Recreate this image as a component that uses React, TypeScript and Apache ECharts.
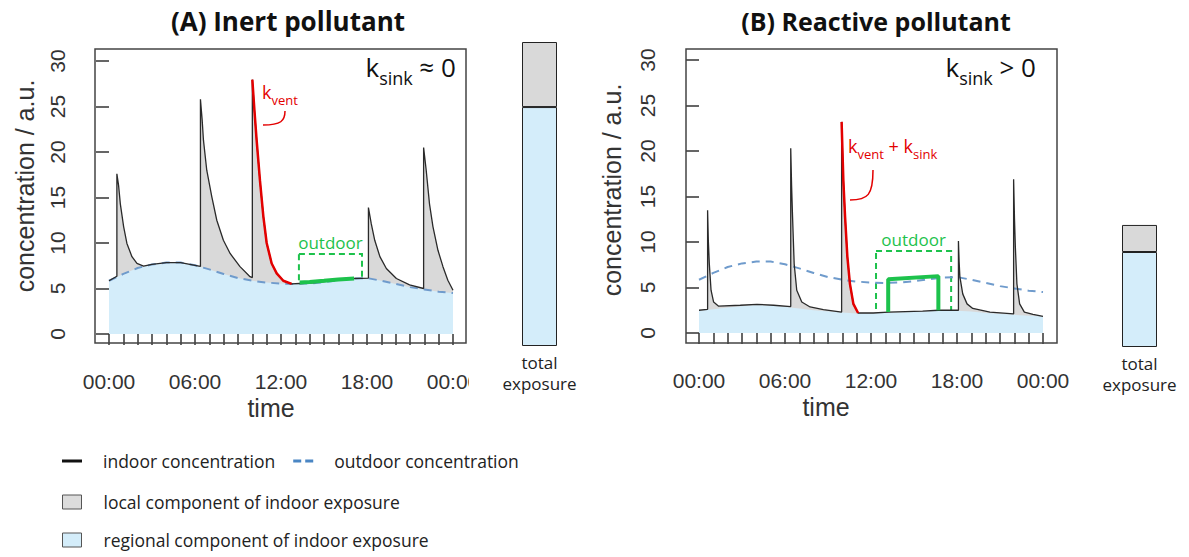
import React, { useEffect, useRef } from 'react';
import * as echarts from 'echarts';

// ---------- data ----------
const timeTickLabels = ['00:00', '06:00', '12:00', '18:00', '00:00'];
const concMin = 0;
const concMax = 30;
const concStep = 5;

// outdoor concentration (hour, a.u.) – same curve in both panels
const outdoorConc: number[][] = [
  [0, 5.85], [1, 6.6], [2, 7.25], [3, 7.65], [4, 7.85], [5, 7.85], [6, 7.55],
  [7, 7.1], [8, 6.6], [9, 6.15], [10, 5.85], [11, 5.65], [12, 5.55], [13, 5.5],
  [14, 5.55], [15, 5.7], [16, 5.9], [17, 6.1], [18, 6.15], [19, 5.85], [20, 5.5],
  [21, 5.15], [22, 4.9], [23, 4.65], [24, 4.5],
];

// (A) inert pollutant – indoor concentration
const indoorA: number[][] = [
  [0, 5.85], [0.55, 6.35],
  [0.55, 17.6], [0.67, 16.3], [0.79, 14.3], [1.02, 11.8], [1.25, 9.95], [1.6, 8.5], [1.95, 7.75], [2.41, 7.46],
  [3, 7.65], [4, 7.85], [5, 7.85], [6, 7.55], [6.38, 7.42],
  [6.38, 25.8], [6.5, 23.5], [6.59, 21.3], [6.82, 18.0], [7.17, 15.1], [7.52, 12.5], [7.98, 10.3],
  [8.45, 8.85], [9.14, 7.4], [9.84, 6.3], [10.0, 6.2],
  [10.0, 27.95], [10.15, 24.5], [10.3, 21.3], [10.53, 16.9], [10.77, 12.9], [11.0, 10.0], [11.35, 7.75],
  [11.7, 6.66], [12.16, 5.85], [12.74, 5.5],
  [13.3, 5.55], [14, 5.6], [15, 5.75], [16, 5.95], [17, 6.1], [18.1, 6.15],
  [18.1, 13.9], [18.3, 12.1], [18.54, 10.3], [18.9, 8.5], [19.35, 7.2], [20.05, 6.1], [20.97, 5.4], [21.95, 5.0],
  [21.95, 20.5], [22.13, 18.0], [22.36, 14.3], [22.6, 11.8], [22.95, 9.2], [23.3, 7.4], [23.64, 5.9], [24, 4.8],
];

// (B) reactive pollutant – indoor concentration
const indoorB: number[][] = [
  [0, 2.5], [0.6, 2.6],
  [0.6, 13.5], [0.65, 10.2], [0.72, 7.6], [0.84, 4.7], [1.02, 3.4], [1.37, 2.95], [2.88, 3.05], [4.04, 3.15], [5.2, 3.05], [6.4, 2.9],
  [6.4, 20.3], [6.46, 16.2], [6.52, 13.1], [6.64, 7.6], [6.82, 4.7], [7.17, 3.4], [7.75, 2.86], [8.68, 2.57], [9.95, 2.3],
  [9.95, 23.2], [10.0, 20.5], [10.07, 16.8], [10.19, 12.8], [10.35, 8.4], [10.53, 5.4], [10.77, 3.2], [11.1, 2.2],
  [12.16, 2.2], [13.2, 2.3], [15.6, 2.4], [16.7, 2.5], [18.1, 2.5],
  [18.1, 10.1], [18.15, 7.8], [18.2, 6.2], [18.4, 4.3], [18.7, 3.2], [19.1, 2.7], [20.3, 2.3], [21.95, 2.1],
  [21.95, 16.9], [22.01, 12.6], [22.07, 9.5], [22.18, 5.4], [22.37, 3.2], [22.7, 2.3], [23.3, 2.05], [24, 1.83],
];

// (B) regional component (top of blue area)
const regionalB: number[][] = [
  [0, 2.45], [1, 2.6], [2, 2.8], [3, 2.95], [4, 3.05], [5, 3.0], [6, 2.85], [7, 2.7], [8, 2.5],
  [9, 2.35], [10, 2.25], [11, 2.15], [12, 2.15], [13, 2.2], [14, 2.25], [15, 2.3], [16, 2.4],
  [17, 2.45], [18, 2.45], [19, 2.35], [20, 2.2], [21, 2.1], [22, 2.0], [23, 1.9], [24, 1.8],
];

// time spent outdoors (green)
const outdoorStayA: number[][] = [[13.3, 5.65], [14, 5.72], [15, 5.85], [16, 6.0], [17.1, 6.1]];
const outdoorStayB: number[][] = [[13.2, 2.3], [13.2, 5.9], [16.7, 6.25], [16.7, 2.5]];
const outdoorWindowA = [13.25, 17.65, 3.85, 8.8];
const outdoorWindowB = [12.35, 17.59, 0.33, 9.0];

// ventilation decay highlighted in red: peak hour and end hour
const ventA = [10.0, 12.74];
const ventB = [9.95, 11.1];

// total exposure bars
const exposureCategories = ['total exposure'];
const exposureRegional = [78.6, 31.25];
const exposureLocal = [21.4, 8.9];

// ---------- helpers ----------
const decaySegment = (pts: number[][], range: number[]) => {
  const start = pts.map((p) => p[0]).lastIndexOf(range[0]);
  const out: number[][] = [];
  for (let i = start; i < pts.length && pts[i][0] <= range[1]; i++) out.push(pts[i]);
  return out;
};

const SANS = 'Liberation Sans, Arial, sans-serif';
const CAL = 'Open Sans, sans-serif';
const AX = '#333';
const BLUE_FILL = '#d4edfa';
const GREY_FILL = '#d9d9d9';
const DASH_BLUE = '#6f9bcc';
const RED = '#e30000';
const GREEN = '#1dc24c';

const panelXAxis = (gridIndex: number, namePad: number) => ({
  gridIndex,
  type: 'value',
  min: 0,
  max: 24,
  interval: 1,
  offset: 12,
  axisLine: { show: false },
  axisTick: { show: true, length: 11, lineStyle: { color: AX, width: 1.5 } },
  axisLabel: {
    margin: 25,
    fontSize: 21,
    fontFamily: SANS,
    color: AX,
    showMinLabel: true,
    showMaxLabel: true,
    formatter: (v: number) => (v % 6 === 0 ? timeTickLabels[v / 6] : ''),
  },
  splitLine: { show: false },
  name: 'time',
  nameLocation: 'middle',
  nameGap: 49,
  nameTextStyle: { fontSize: 25, fontFamily: SANS, color: AX, padding: [0, namePad, 0, 0] },
});

const panelYAxis = (gridIndex: number, namePad: number, nameGap: number) => ({
  gridIndex,
  type: 'value',
  min: concMin,
  max: concMax,
  interval: concStep,
  offset: 14,
  axisLine: { show: false },
  axisTick: { show: true, length: 13, lineStyle: { color: AX, width: 1.5 } },
  axisLabel: { rotate: 90, margin: 27, fontSize: 21, fontFamily: SANS, color: AX },
  splitLine: { show: false },
  name: 'concentration / a.u.',
  nameLocation: 'middle',
  nameGap,
  nameTextStyle: { fontSize: 25, fontFamily: SANS, color: AX, padding: [0, 0, 0, namePad] },
});

const barXAxis = (gridIndex: number) => ({
  gridIndex,
  type: 'category',
  data: exposureCategories,
  axisLine: { show: false },
  axisTick: { show: false },
  axisLabel: {
    margin: 6,
    fontSize: 17,
    lineHeight: 21,
    fontFamily: CAL,
    color: '#222',
    formatter: (v: string) => v.replace(' ', '\n'),
  },
});

const barYAxis = (gridIndex: number) => ({ gridIndex, type: 'value', min: 0, max: 100, show: false });

const panelSeries = (
  idx: number,
  indoor: number[][],
  regional: number[][],
  vent: number[],
  stay: number[][],
  win: number[],
) => [
  {
    type: 'line', name: 'local component of indoor exposure', xAxisIndex: idx, yAxisIndex: idx,
    data: indoor, showSymbol: false, silent: true, z: 1,
    lineStyle: { width: 0 }, itemStyle: { color: GREY_FILL }, areaStyle: { color: GREY_FILL, opacity: 1 },
  },
  {
    type: 'line', name: 'regional component of indoor exposure', xAxisIndex: idx, yAxisIndex: idx,
    data: regional, showSymbol: false, silent: true, z: 2,
    lineStyle: { width: 0 }, itemStyle: { color: BLUE_FILL }, areaStyle: { color: BLUE_FILL, opacity: 1 },
  },
  {
    type: 'line', name: 'outdoor concentration', xAxisIndex: idx, yAxisIndex: idx,
    data: outdoorConc, showSymbol: false, silent: true, z: 3,
    itemStyle: { color: DASH_BLUE }, lineStyle: { color: DASH_BLUE, width: 2, type: [8, 6] },
  },
  {
    type: 'line', name: 'indoor concentration', xAxisIndex: idx, yAxisIndex: idx,
    data: indoor, showSymbol: false, silent: true, z: 4,
    itemStyle: { color: '#222' }, lineStyle: { color: '#2a2a2a', width: 1.3 },
  },
  {
    type: 'line', name: 'ventilation decay', xAxisIndex: idx, yAxisIndex: idx,
    data: decaySegment(indoor, vent), showSymbol: false, silent: true, z: 5,
    itemStyle: { color: RED }, lineStyle: { color: RED, width: 2.5 },
  },
  {
    type: 'line', name: 'time outdoors', xAxisIndex: idx, yAxisIndex: idx,
    data: stay, showSymbol: false, silent: true, z: 6,
    itemStyle: { color: GREEN }, lineStyle: { color: GREEN, width: 4 },
    markArea: {
      silent: true,
      itemStyle: { color: 'rgba(0,0,0,0)', borderColor: GREEN, borderWidth: 2, borderType: [6, 4] },
      label: { show: true, position: 'top', distance: 2, color: GREEN, fontSize: 17, fontFamily: CAL },
      data: [[{ name: 'outdoor', xAxis: win[0], yAxis: win[3] }, { xAxis: win[1], yAxis: win[2] }]],
    },
  },
];

const barSeries = (idx: number, k: number, stack: string) => [
  {
    type: 'bar', name: 'regional component of indoor exposure', xAxisIndex: idx, yAxisIndex: idx, stack,
    data: [exposureRegional[k]], barWidth: '100%', silent: true,
    itemStyle: { color: BLUE_FILL, borderColor: '#222', borderWidth: 1 },
  },
  {
    type: 'bar', name: 'local component of indoor exposure', xAxisIndex: idx, yAxisIndex: idx, stack,
    data: [exposureLocal[k]], barWidth: '100%', silent: true,
    itemStyle: { color: GREY_FILL, borderColor: '#222', borderWidth: 1 },
  },
];

const legendText = { fontFamily: CAL, fontSize: 17.5, color: '#222', lineHeight: 22 };

export default function App() {
  const ref = useRef<HTMLDivElement>(null);

  useEffect(() => {
    if (!ref.current) return;
    const chart = echarts.init(ref.current, undefined, { renderer: 'svg' });
    const option: any = {
      animation: false,
      backgroundColor: '#fff',
      title: [
        { text: '(A) Inert pollutant', left: 283, top: 3, textAlign: 'center',
          textStyle: { fontFamily: CAL, fontSize: 26, fontWeight: 'bold', color: '#111' } },
        { text: '(B) Reactive pollutant', left: 871, top: 3, textAlign: 'center',
          textStyle: { fontFamily: CAL, fontSize: 25, fontWeight: 'bold', color: '#111' } },
      ],
      grid: [
        { left: 109, top: 61, width: 344, height: 273 },
        { left: 699, top: 60, width: 344, height: 273 },
        { left: 522, top: 42, width: 35, height: 304 },
        { left: 1122, top: 43, width: 35, height: 304 },
      ],
      xAxis: [panelXAxis(0, 20), panelXAxis(1, 90), barXAxis(2), barXAxis(3)],
      yAxis: [panelYAxis(0, 23, 58), panelYAxis(1, 13, 61), barYAxis(2), barYAxis(3)],
      legend: [
        {
          left: 62, top: 450, padding: 0, itemWidth: 20, itemHeight: 3, itemGap: 18,
          selectedMode: false,
          textStyle: { ...legendText, padding: [0, 0, 0, 16] },
          data: [
            { name: 'indoor concentration', icon: 'rect', itemStyle: { color: '#111', borderWidth: 0 } },
            { name: 'outdoor concentration', icon: 'path://M0,0h8v3h-8z M12,0h8v3h-8z',
              itemStyle: { color: '#4a86c4', borderWidth: 0 } },
          ],
        },
        {
          left: 62, top: 491, padding: 0, itemWidth: 19, itemHeight: 14, selectedMode: false,
          textStyle: { ...legendText, padding: [0, 0, 0, 17] },
          data: [{ name: 'local component of indoor exposure', icon: 'rect',
            itemStyle: { color: '#dcdcdc', borderColor: '#555', borderWidth: 1 } }],
        },
        {
          left: 62, top: 529, padding: 0, itemWidth: 19, itemHeight: 14, selectedMode: false,
          textStyle: { ...legendText, padding: [0, 0, 0, 17] },
          data: [{ name: 'regional component of indoor exposure', icon: 'rect',
            itemStyle: { color: BLUE_FILL, borderColor: '#555', borderWidth: 1 } }],
        },
      ],
      series: [
        ...panelSeries(0, indoorA, outdoorConc, ventA, outdoorStayA, outdoorWindowA),
        ...panelSeries(1, indoorB, regionalB, ventB, outdoorStayB, outdoorWindowB),
        ...barSeries(2, 0, 'A'),
        ...barSeries(3, 1, 'B'),
      ],
      graphic: [
        { type: 'rect', shape: { x: 95, y: 49, width: 371, height: 294 },
          style: { fill: 'none', stroke: '#444', lineWidth: 1.5 }, z: 50, silent: true },
        { type: 'rect', shape: { x: 686, y: 49, width: 371, height: 294 },
          style: { fill: 'none', stroke: '#444', lineWidth: 1.5 }, z: 50, silent: true },
        { type: 'rect', shape: { x: 469, y: 366, width: 32, height: 32 },
          style: { fill: '#fff' }, z: 100, silent: true },
        {
          type: 'text', x: 456, y: 72, z: 60, silent: true,
          style: {
            text: '{k|k}{s|sink}{k| ≈ 0}', textAlign: 'right', textVerticalAlign: 'middle',
            rich: {
              k: { fontSize: 26, fontFamily: CAL, fill: '#111', verticalAlign: 'bottom', lineHeight: 30, padding: [0, 0, 7, 0] },
              s: { fontSize: 18, fontFamily: CAL, fill: '#111', verticalAlign: 'bottom', lineHeight: 22 },
            },
          },
        },
        {
          type: 'text', x: 1036, y: 72, z: 60, silent: true,
          style: {
            text: '{k|k}{s|sink}{k| > 0}', textAlign: 'right', textVerticalAlign: 'middle',
            rich: {
              k: { fontSize: 26, fontFamily: CAL, fill: '#111', verticalAlign: 'bottom', lineHeight: 30, padding: [0, 0, 7, 0] },
              s: { fontSize: 18, fontFamily: CAL, fill: '#111', verticalAlign: 'bottom', lineHeight: 22 },
            },
          },
        },
        {
          type: 'text', x: 262, y: 95, z: 60, silent: true,
          style: {
            text: '{k|k}{s|vent}', textAlign: 'left', textVerticalAlign: 'middle',
            rich: {
              k: { fontSize: 18, fontFamily: CAL, fill: RED, verticalAlign: 'bottom', lineHeight: 22, padding: [0, 0, 5, 0] },
              s: { fontSize: 13, fontFamily: CAL, fill: RED, verticalAlign: 'bottom', lineHeight: 16 },
            },
          },
        },
        {
          type: 'text', x: 848, y: 149, z: 60, silent: true,
          style: {
            text: '{k|k}{s|vent}{k| + k}{s|sink}', textAlign: 'left', textVerticalAlign: 'middle',
            rich: {
              k: { fontSize: 18, fontFamily: CAL, fill: RED, verticalAlign: 'bottom', lineHeight: 22, padding: [0, 0, 5, 0] },
              s: { fontSize: 13, fontFamily: CAL, fill: RED, verticalAlign: 'bottom', lineHeight: 16 },
            },
          },
        },
        { type: 'bezierCurve', z: 60, silent: true,
          shape: { x1: 263, y1: 125, cpx1: 281, cpy1: 125, cpx2: 285, cpy2: 121, x2: 285, y2: 111 },
          style: { stroke: RED, lineWidth: 1.5, fill: 'none' } },
        { type: 'bezierCurve', z: 60, silent: true,
          shape: { x1: 850, y1: 200, cpx1: 868, cpy1: 200, cpx2: 873, cpy2: 195, x2: 873, y2: 170 },
          style: { stroke: RED, lineWidth: 1.5, fill: 'none' } },
      ],
    };
    chart.setOption(option);
    return () => chart.dispose();
  }, []);

  return (
    <div
      ref={ref}
      style={{ position: 'fixed', left: 0, top: 0, width: 1189, height: 557, background: '#fff' }}
    />
  );
}
